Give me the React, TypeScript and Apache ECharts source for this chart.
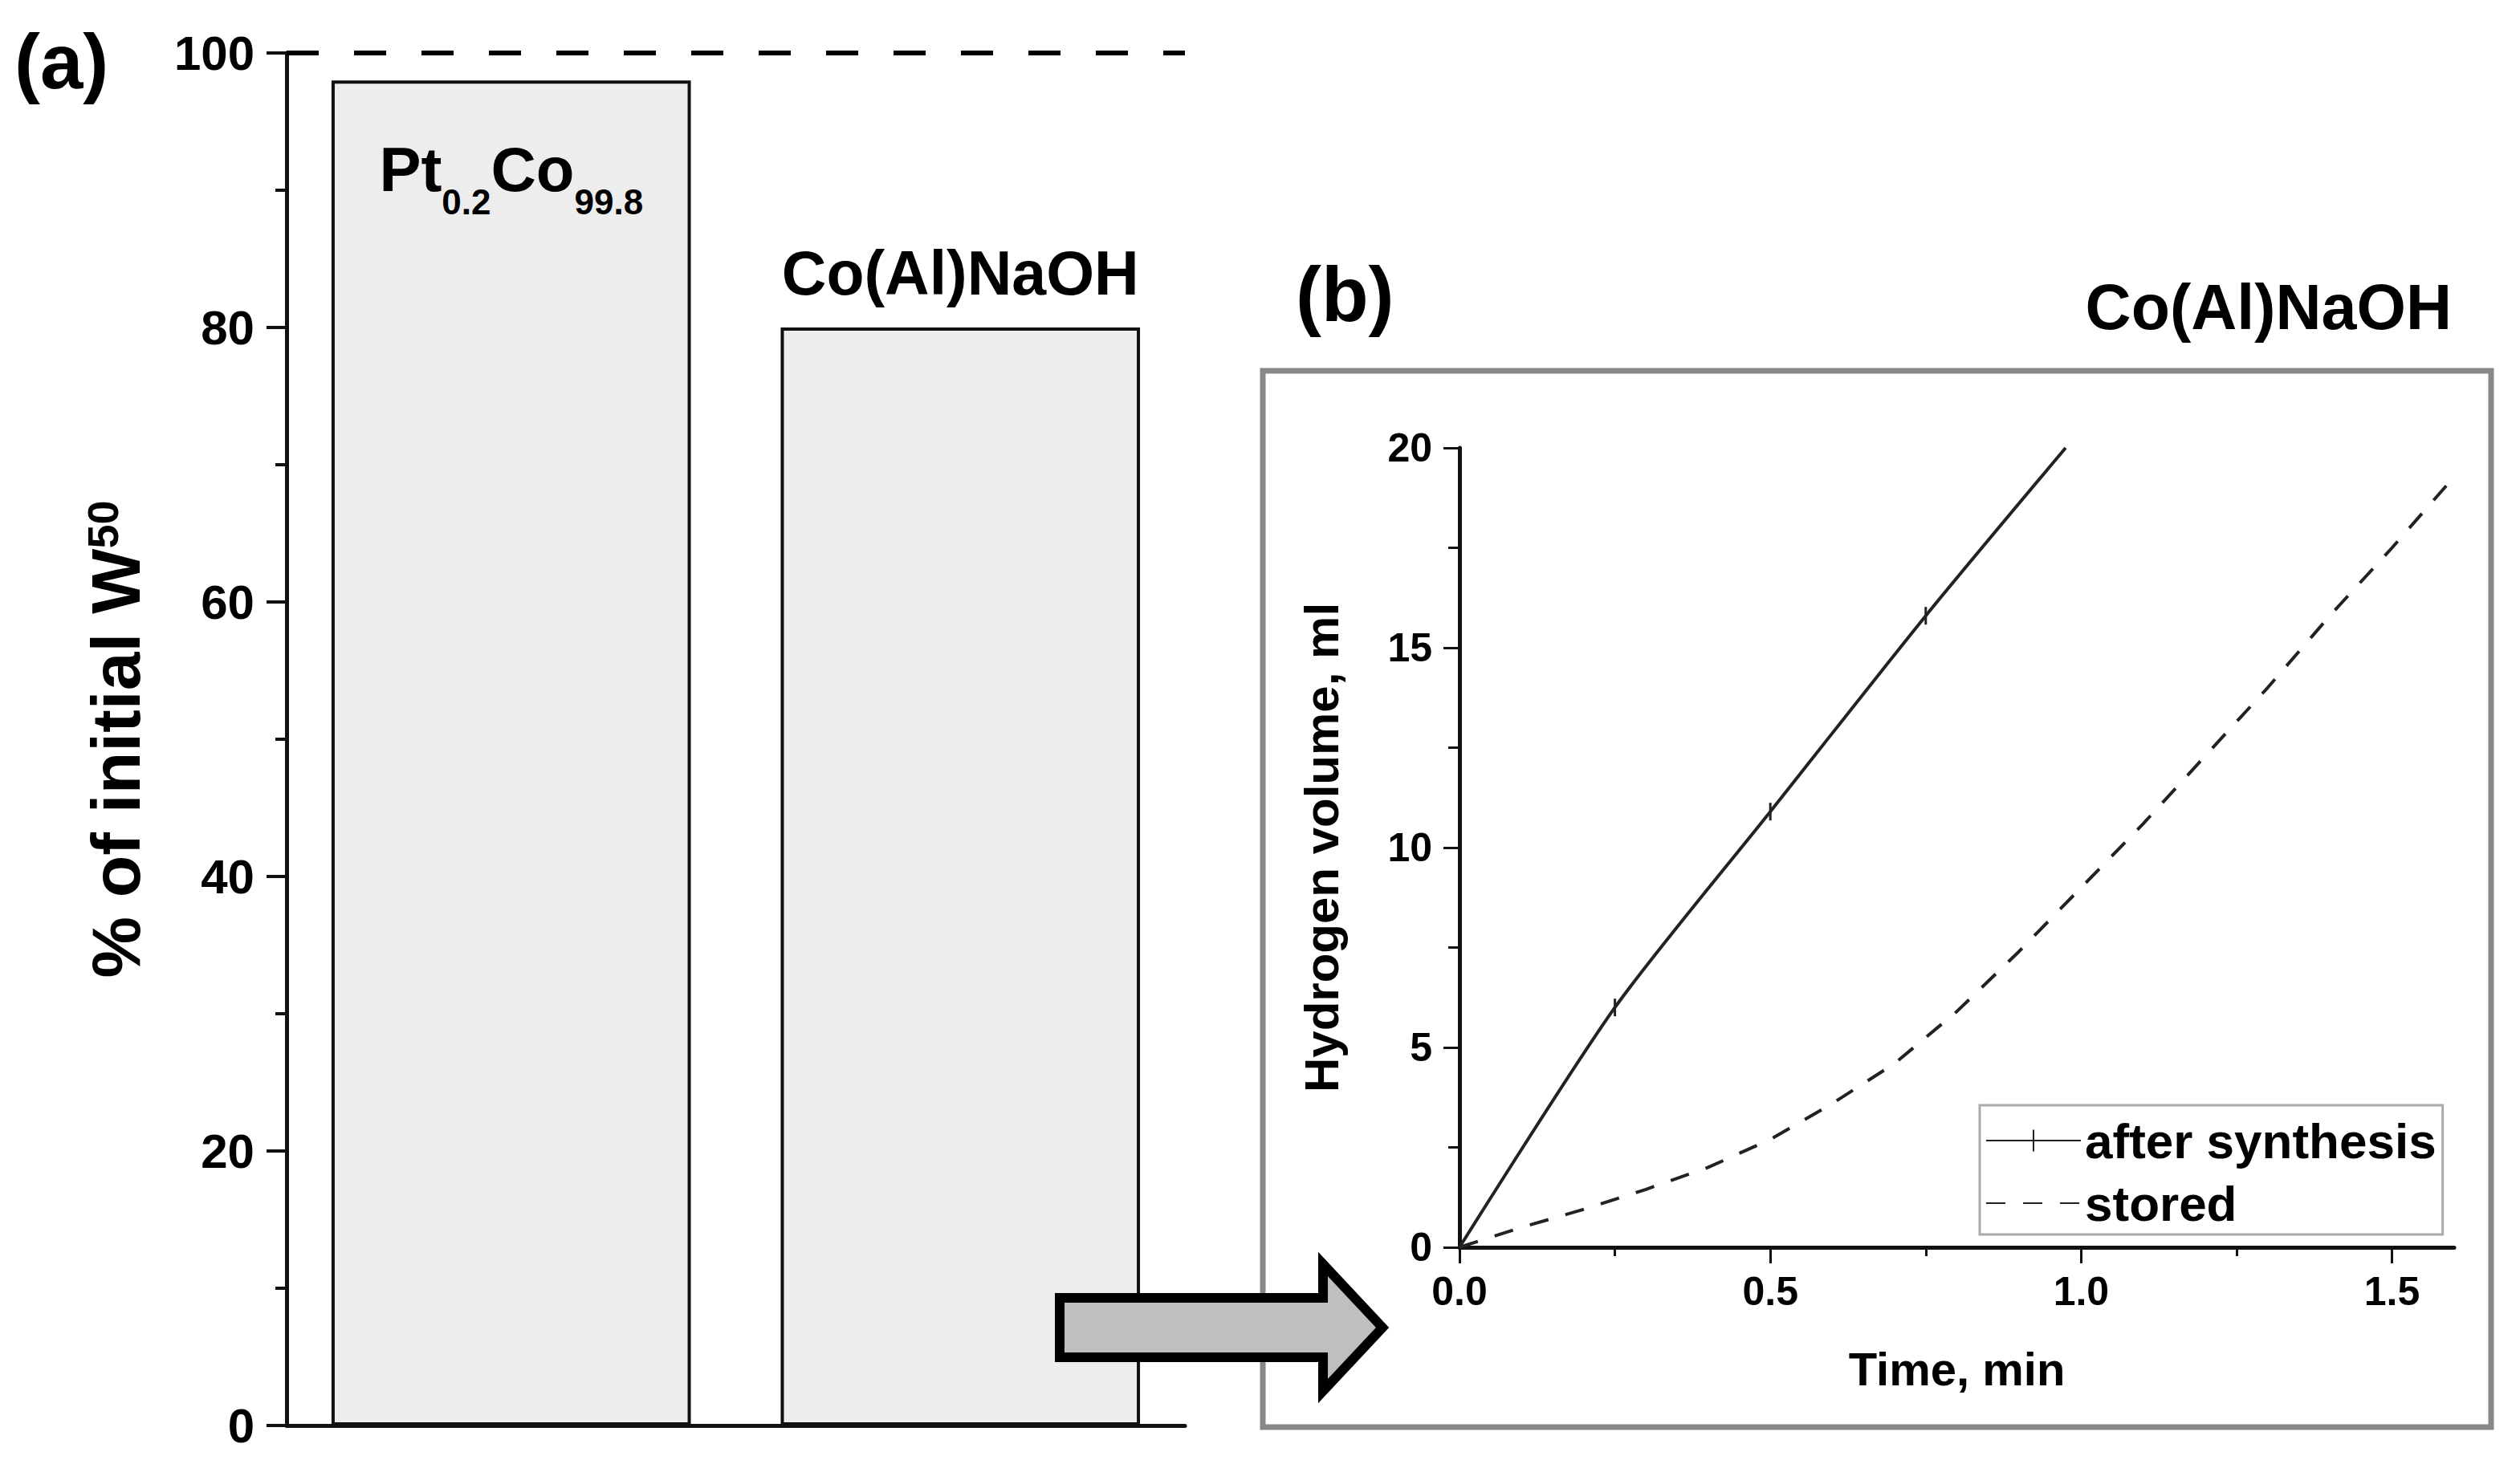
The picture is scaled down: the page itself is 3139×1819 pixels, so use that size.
import React, { useEffect, useRef } from "react";
import * as echarts from "echarts";

// ---------- data ----------
const barCategories = ["Pt0.2Co99.8", "Co(Al)NaOH"];
const barValues = [98, 80];
const yTicksA = [0, 20, 40, 60, 80, 100];

const afterTime = [0, 0.25, 0.5, 0.75, 0.975];
const afterVolume = [0, 6.0, 10.9, 15.8, 20.0];
const afterMarked = [false, true, true, true, false];

const storedTime = [0, 0.1, 0.2, 0.3, 0.4, 0.5, 0.6, 0.7, 0.8, 0.9, 1.0, 1.1, 1.2, 1.3, 1.4, 1.5, 1.59];
const storedVolume = [0, 0.5, 0.95, 1.45, 2.0, 2.7, 3.6, 4.6, 5.9, 7.4, 9.0, 10.6, 12.3, 14.0, 15.8, 17.5, 19.1];

const xMajorB = [0, 0.5, 1.0, 1.5];
const xMinorB = [0.25, 0.75, 1.25];

const FONT = "'Liberation Sans', Arial, sans-serif";
const INK = "#111";
const TICK_SYMBOL = "path://M0,0 M10,10 M5,0 L5,10";
const EMPTY_SYMBOL = "path://M0,0 M10,10";

export default function App() {
  const ref = useRef<HTMLDivElement>(null);

  useEffect(() => {
    if (!ref.current) return;
    const chart = echarts.init(ref.current, null, { renderer: "svg" });

    const option: any = {
      animation: false,
      backgroundColor: "#fff",
      textStyle: { fontFamily: FONT },
      title: {
        text: "Co(Al)NaOH",
        right: 85,
        top: 342,
        padding: 0,
        textStyle: { fontFamily: FONT, fontSize: 79, fontWeight: "bold", color: "#000", lineHeight: 80 },
      },
      legend: {
        orient: "vertical",
        left: 2466,
        top: 1377,
        padding: [10, 8, 5, 7],
        itemWidth: 118,
        itemHeight: 34,
        itemGap: 10,
        borderColor: "#aaa",
        borderWidth: 3,
        textStyle: { fontFamily: FONT, fontSize: 62, fontWeight: "bold", color: "#000", lineHeight: 68 },
        data: ["after synthesis", "stored"],
      },
      grid: [
        { left: 357, top: 66, width: 1119, height: 1710 },
        { left: 1818, top: 558, right: 82, bottom: 265 },
      ],
      xAxis: [
        {
          gridIndex: 0,
          type: "category",
          data: barCategories,
          axisLine: { show: true, lineStyle: { color: INK, width: 5 } },
          axisTick: { show: false },
          axisLabel: { show: false },
          splitLine: { show: false },
        },
        {
          gridIndex: 1,
          type: "value",
          min: 0,
          max: 1.6,
          interval: 0.5,
          position: "bottom",
          name: "Time, min",
          nameLocation: "middle",
          nameGap: 122,
          nameTextStyle: { fontFamily: FONT, fontSize: 58, fontWeight: "bold", color: "#000" },
          axisLine: { show: true, onZero: false, lineStyle: { color: INK, width: 5 } },
          axisTick: { show: true, length: 20, customValues: xMajorB, lineStyle: { color: INK, width: 3 } },
          axisLabel: {
            customValues: xMajorB,
            margin: 30,
            fontFamily: FONT,
            fontSize: 50,
            fontWeight: "bold",
            color: "#000",
            formatter: (v: number) => (Math.abs(v / 0.5 - Math.round(v / 0.5)) < 1e-6 ? v.toFixed(1) : ""),
          },
          splitLine: { show: false },
        },
        {
          gridIndex: 1,
          type: "value",
          min: 0,
          max: 1.6,
          position: "bottom",
          axisLine: { show: false },
          axisTick: { show: true, length: 11, customValues: xMinorB, lineStyle: { color: INK, width: 3 } },
          axisLabel: { show: false },
          splitLine: { show: false },
        },
      ],
      yAxis: [
        {
          gridIndex: 0,
          type: "value",
          min: yTicksA[0],
          max: yTicksA[yTicksA.length - 1],
          interval: 20,
          name: "{m|% of initial W}{s|50}",
          nameLocation: "middle",
          nameGap: 170,
          nameTextStyle: {
            rich: {
              m: { fontFamily: FONT, fontSize: 86, fontWeight: "bold", color: "#000", lineHeight: 86, verticalAlign: "bottom" },
              s: { fontFamily: FONT, fontSize: 54, fontWeight: "bold", color: "#000", lineHeight: 42, verticalAlign: "top" },
            },
          },
          axisLine: { show: true, lineStyle: { color: INK, width: 5 } },
          axisTick: { show: true, length: 25, lineStyle: { color: INK, width: 4 } },
          minorTick: { show: true, splitNumber: 2, length: 14, lineStyle: { color: INK, width: 4 } },
          axisLabel: { margin: 40, fontFamily: FONT, fontSize: 60, fontWeight: "bold", color: "#000" },
          splitLine: { show: false },
        },
        {
          gridIndex: 1,
          type: "value",
          min: 0,
          max: 20,
          interval: 5,
          name: "Hydrogen volume, ml",
          nameLocation: "middle",
          nameGap: 142,
          nameTextStyle: { fontFamily: FONT, fontSize: 60, fontWeight: "bold", color: "#000" },
          axisLine: { show: true, onZero: false, lineStyle: { color: INK, width: 5 } },
          axisTick: { show: true, length: 20, lineStyle: { color: INK, width: 3 } },
          minorTick: { show: true, splitNumber: 2, length: 14, lineStyle: { color: INK, width: 3 } },
          axisLabel: { margin: 34, fontFamily: FONT, fontSize: 50, fontWeight: "bold", color: "#000" },
          splitLine: { show: false },
        },
      ],
      series: [
        {
          type: "bar",
          xAxisIndex: 0,
          yAxisIndex: 0,
          barWidth: "80%",
          itemStyle: { color: "#ededed", borderColor: INK, borderWidth: 4 },
          data: [
            {
              value: barValues[0],
              label: {
                show: true,
                position: "insideTop",
                distance: 72,
                formatter: "{m|Pt}{s|0.2}{m|Co}{s|99.8}",
                rich: {
                  m: { fontFamily: FONT, fontSize: 78, fontWeight: "bold", color: "#000", lineHeight: 80, verticalAlign: "top" },
                  s: { fontFamily: FONT, fontSize: 44, fontWeight: "bold", color: "#000", lineHeight: 101, verticalAlign: "bottom" },
                },
              },
            },
            {
              value: barValues[1],
              label: {
                show: true,
                position: "top",
                distance: 28,
                formatter: barCategories[1],
                fontFamily: FONT,
                fontSize: 77,
                fontWeight: "bold",
                color: "#000",
                lineHeight: 80,
              },
            },
          ],
          markLine: {
            silent: true,
            symbol: "none",
            label: { show: false },
            lineStyle: { color: "#000", width: 6, type: [40, 44] },
            data: [{ yAxis: 100 }],
          },
        },
        {
          name: "after synthesis",
          type: "line",
          xAxisIndex: 1,
          yAxisIndex: 1,
          smooth: 0.25,
          symbol: TICK_SYMBOL,
          symbolSize: 22,
          lineStyle: { color: "#222", width: 4 },
          itemStyle: { color: "#222", borderColor: "#222", borderWidth: 3 },
          data: afterTime.map((t, i) =>
            afterMarked[i] ? { value: [t, afterVolume[i]] } : { value: [t, afterVolume[i]], symbol: "none" }
          ),
        },
        {
          name: "stored",
          type: "line",
          xAxisIndex: 1,
          yAxisIndex: 1,
          symbol: EMPTY_SYMBOL,
          symbolSize: 1,
          showSymbol: false,
          lineStyle: { color: "#222", width: 4, type: [24, 22] },
          itemStyle: { color: "#222", opacity: 0 },
          data: storedTime.map((t, i) => [t, storedVolume[i]]),
        },
      ],
      graphic: [
        {
          type: "text",
          left: 18,
          top: 28,
          z: 100,
          style: { text: "(a)", fontFamily: FONT, fontSize: 96, fontWeight: "bold", fill: "#000" },
        },
        {
          type: "text",
          left: 1614,
          top: 318,
          z: 100,
          style: { text: "(b)", fontFamily: FONT, fontSize: 96, fontWeight: "bold", fill: "#000" },
        },
        {
          type: "rect",
          z: 100,
          shape: { x: 1573, y: 462, width: 1530, height: 1316 },
          style: { fill: "none", stroke: "#888", lineWidth: 7 },
        },
        {
          type: "polygon",
          z: 100,
          shape: {
            points: [
              [1320, 1617],
              [1648, 1617],
              [1648, 1575],
              [1722, 1654],
              [1648, 1733],
              [1648, 1691],
              [1320, 1691],
            ],
          },
          style: { fill: "#bfbfbf", stroke: "#000", lineWidth: 12, lineJoin: "miter" },
        },
      ],
    };

    chart.setOption(option);
    return () => chart.dispose();
  }, []);

  return (
    <div
      ref={ref}
      style={{ position: "fixed", left: 0, top: 0, width: 3139, height: 1819, background: "#fff" }}
    />
  );
}
